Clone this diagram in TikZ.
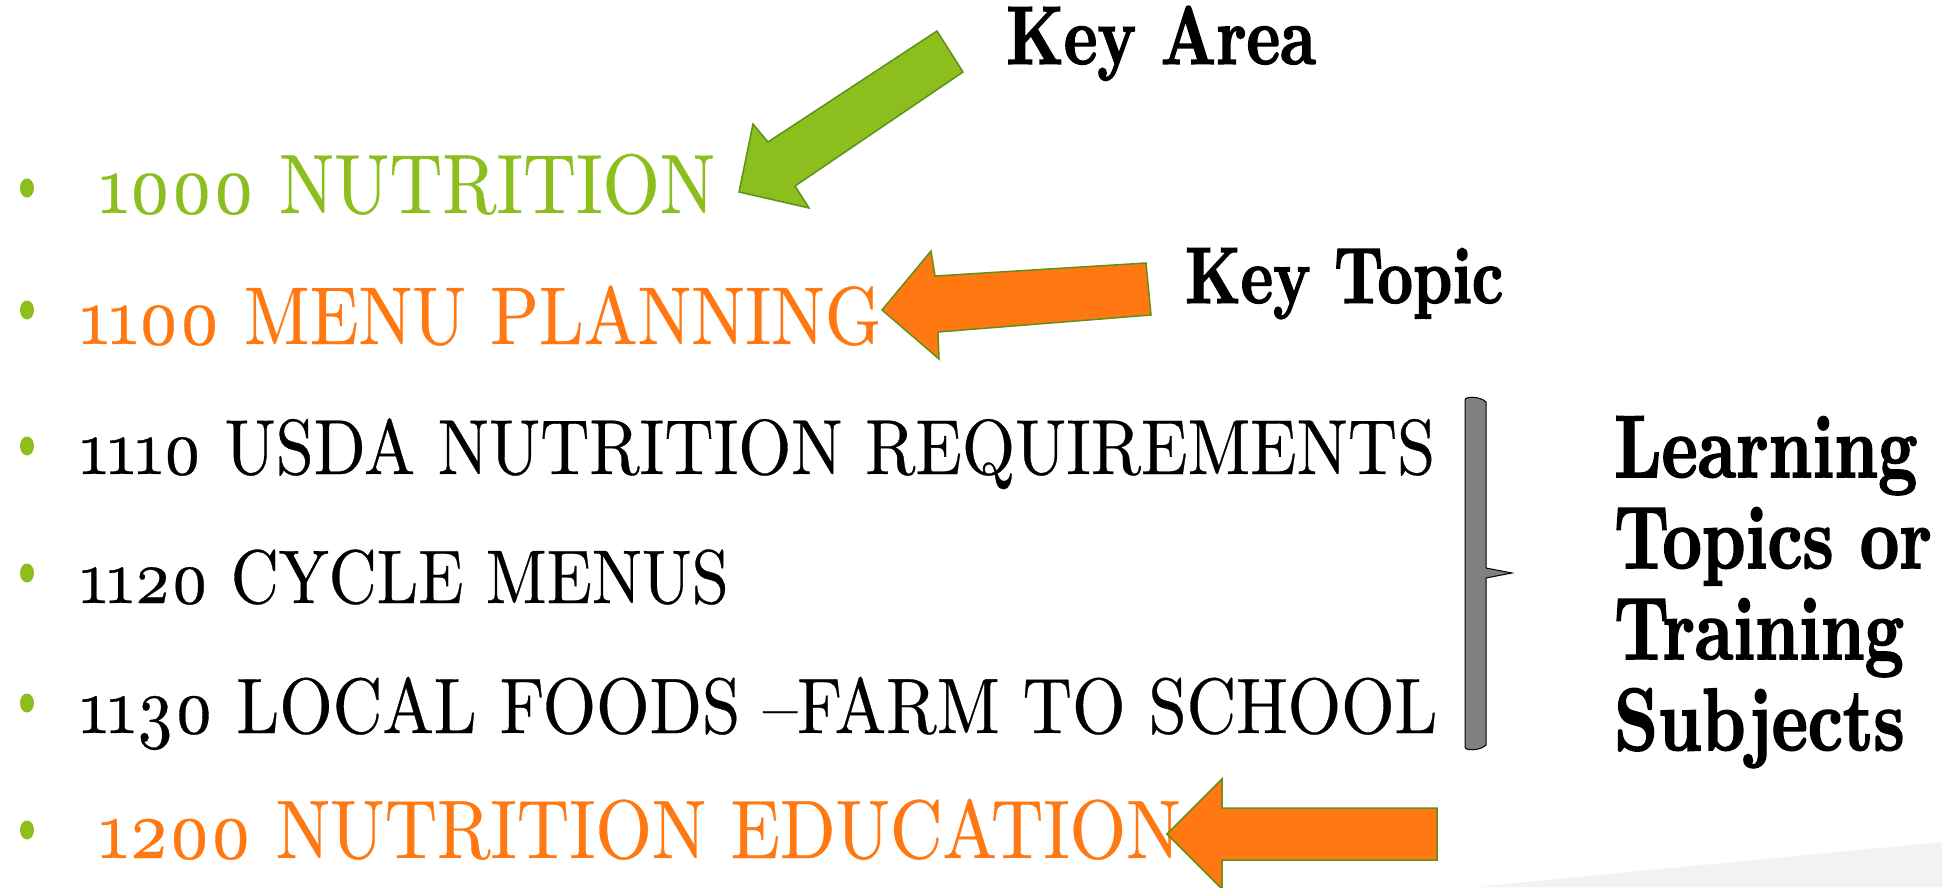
\documentclass[tikz,border=0pt]{standalone}
\usepackage{fontspec}
\setmainfont{lmroman10-regular.otf}[Numbers=OldStyle, FakeStretch=0.875, FakeBold=0.4]
\newfontfamily\notefont{lmroman10-bold.otf}[FakeStretch=0.77, FakeBold=1.6]
\usetikzlibrary{shapes.geometric}

\definecolor{areagreen}{HTML}{8CBF1E}
\definecolor{topicorange}{HTML}{FF7811}
\definecolor{edgegreen}{HTML}{5F9119}
\definecolor{bracegray}{HTML}{808080}
\definecolor{cornergray}{HTML}{F2F2F2}

\begin{document}
\begin{tikzpicture}[x=1pt, y=-1pt,
    item/.style={anchor=base west, inner sep=0pt, font=\fontsize{#1}{#1}\selectfont},
    item/.default=78,
    dot/.style={ellipse, fill=areagreen, minimum width=14pt, minimum height=19pt, inner sep=0pt},
    tag/.style={anchor=base west, inner sep=0pt, font=\notefont\fontsize{#1}{#1}\selectfont},
    blockarrow/.style={draw=edgegreen, line width=1.5pt, line join=miter}]
  \useasboundingbox (0,0) rectangle (1942,887);
  \fill[cornergray] (1474,887) -- (1942,842) -- (1942,887) -- cycle;

  % bullets
  \foreach \y/\n in {188/1, 310/2, 446/3, 573/4, 703/5, 830/6}
    \node[dot] (dot\n) at (27,\y) {};

  % list of codes
  \node[item=84, text=areagreen]   (nutrition) at (99,213)  {1000 NUTRITION};
  \node[item=82, text=topicorange] (menu)      at (80,344)  {1100 MENU PLANNING};
  \node[item]                      (usda)      at (80,474)  {1110 USDA NUTRITION REQUIREMENTS};
  \node[item=76]                   (cycle)     at (80,603)  {1120 CYCLE MENUS};
  \node[item=78.5]                 (local)     at (80,733)  {1130 LOCAL FOODS \textendash FARM TO SCHOOL};
  \node[item=83, text=topicorange] (education) at (99,858)  {1200 NUTRITION EDUCATION};

  % side notes
  \node[tag=83] (keyarea)  at (1006,64)  {Key Area};
  \node[tag=80] (keytopic) at (1185,303) {Key Topic};
  \node[anchor=north west, inner sep=0pt, align=left,
        font=\notefont\fontsize{89}{91}\selectfont] (subjects) at (1614,416)
        {Learning\\Topics or\\Training\\Subjects};

  % block arrows
  \draw[blockarrow, fill=areagreen] (937,31) -- (768,142) -- (753,124) -- (739,192)
    -- (809,208) -- (795,186) -- (963,72) -- cycle;
  \draw[blockarrow, fill=topicorange] (882,310) -- (931,251) -- (935,276) -- (1146,263)
    -- (1151,315) -- (938,332) -- (939,359) -- cycle;
  \draw[blockarrow, fill=topicorange] (1167,834) -- (1222,779) -- (1222,808) -- (1437,808)
    -- (1437,860) -- (1222,860) -- (1222,889) -- cycle;

  % brace
  \draw[fill=bracegray, line width=1pt] (1465,400) .. controls (1465,396) and (1480,396) .. (1486,402)
    -- (1486,568) -- (1512,573) -- (1486,578) -- (1486,745)
    .. controls (1480,751) and (1465,751) .. (1465,747) -- cycle;
\end{tikzpicture}
\end{document}
